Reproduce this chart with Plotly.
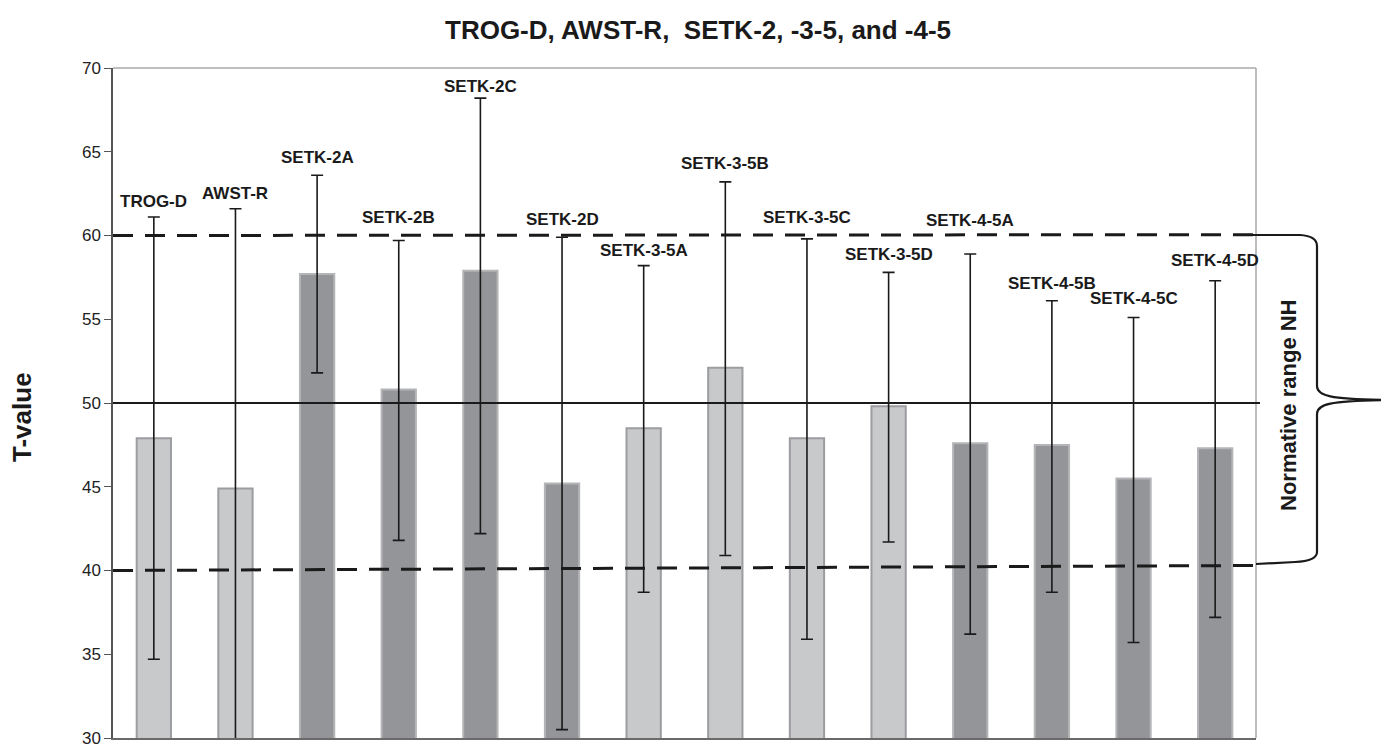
import plotly.graph_objects as go

categories = ["TROG-D", "AWST-R", "SETK-2A", "SETK-2B", "SETK-2C", "SETK-2D",
              "SETK-3-5A", "SETK-3-5B", "SETK-3-5C", "SETK-3-5D",
              "SETK-4-5A", "SETK-4-5B", "SETK-4-5C", "SETK-4-5D"]
means = [47.9, 44.9, 57.7, 50.8, 57.9, 45.2, 48.5, 52.1, 47.9, 49.8, 47.6, 47.5, 45.5, 47.3]
upper = [61.1, 61.6, 63.6, 59.7, 68.2, 59.9, 58.2, 63.2, 59.8, 57.8, 58.9, 56.1, 55.1, 57.3]
lower = [34.7, 28.0, 51.8, 41.8, 42.2, 30.5, 38.7, 40.9, 35.9, 41.7, 36.2, 38.7, 35.7, 37.2]
group = ["light", "light", "dark", "dark", "dark", "dark", "light", "light", "light", "light",
         "dark", "dark", "dark", "dark"]
# label lift above the upper cap (pixels)
label_lift = [16, 15, 18, 23, 12, 18, 15, 18, 21, 18, 33, 17, 19, 20]

norm_mean = 50
norm_upper = (60.0, 60.05)
norm_lower = (40.0, 40.3)
y_range = [30, 70]
y_ticks = [30, 35, 40, 45, 50, 55, 60, 65, 70]

FONT = "Liberation Sans, Arial, sans-serif"
fill = {"light": "#c8c9cb", "dark": "#939598"}
edge = {"light": "#9c9da0", "dark": "#b4b5b7"}

fig = go.Figure()
fig.add_trace(go.Bar(
    x=categories, y=means, width=0.42,
    marker=dict(color=[fill[g] for g in group],
                line=dict(color=[edge[g] for g in group], width=2)),
    error_y=dict(type="data", symmetric=False,
                 array=[u - m for u, m in zip(upper, means)],
                 arrayminus=[m - l for m, l in zip(means, lower)],
                 color="#1a1a1a", thickness=1.6, width=6),
    showlegend=False,
))

# page offset (body margin) and plot-area pixel geometry in screen coords
OFF = 8
X0, X1, Y0, Y1 = 113, 1256, 738, 68
def px(x):
    return (x - X0) / (X1 - X0)
def py(y):
    return y_range[0] + (Y0 - y) / (Y0 - Y1) * (y_range[1] - y_range[0])

shapes = []
shapes.append(dict(type="line", xref="paper", yref="paper", x0=0, x1=1, y0=1, y1=1,
                   line=dict(color="#a8a8a8", width=1.5), layer="below"))
shapes.append(dict(type="line", xref="paper", yref="paper", x0=1, x1=1, y0=0, y1=1,
                   line=dict(color="#a8a8a8", width=1.5), layer="below"))
shapes.append(dict(type="line", xref="paper", yref="y", x0=0, x1=px(1255),
                   y0=norm_upper[0], y1=norm_upper[1],
                   line=dict(color="#1a1a1a", width=3, dash="20px,12px")))
shapes.append(dict(type="line", xref="paper", yref="y", x0=0, x1=px(1255),
                   y0=norm_lower[0], y1=norm_lower[1],
                   line=dict(color="#1a1a1a", width=3, dash="20px,12px")))
shapes.append(dict(type="line", xref="paper", yref="y", x0=0, x1=px(1260),
                   y0=norm_mean, y1=norm_mean,
                   line=dict(color="#1a1a1a", width=2.2)))
def P(x, y):
    return f"{px(x):.5f},{py(y):.4f}"
path = (f"M {P(1250,235)} L {P(1300,235)} Q {P(1317,236)} {P(1317,246)} "
        f"L {P(1317,386)} C {P(1317,396)} {P(1330,399)} {P(1385,400)} "
        f"C {P(1330,401)} {P(1317,404)} {P(1317,414)} "
        f"L {P(1317,552)} Q {P(1317,561)} {P(1295,562)} L {P(1256,564)}")
shapes.append(dict(type="path", xref="paper", yref="y", path=path,
                   line=dict(color="#1a1a1a", width=2.2)))

annotations = []
for c, u, lift in zip(categories, upper, label_lift):
    annotations.append(dict(x=c, y=u, xref="x", yref="y", text=f"<b>{c}</b>",
                            showarrow=False, xanchor="center", yanchor="middle", yshift=lift,
                            font=dict(family=FONT, size=17, color="#1a1a1a")))
annotations.append(dict(x=px(698), y=(Y0 - 30) / (Y0 - Y1), xref="paper", yref="paper",
                        xanchor="center", yanchor="middle",
                        text="<b>TROG-D, AWST-R,  SETK-2, -3-5, and -4-5</b>",
                        showarrow=False, font=dict(family=FONT, size=26, color="#1a1a1a")))
annotations.append(dict(x=px(22), y=py(417), xref="paper", yref="y",
                        xanchor="center", yanchor="middle",
                        text="<b>T-value</b>", textangle=-90, showarrow=False,
                        font=dict(family=FONT, size=26, color="#1a1a1a")))
annotations.append(dict(x=px(1288), y=py(405), xref="paper", yref="y",
                        xanchor="center", yanchor="middle",
                        text="<b>Normative range NH</b>", textangle=-90, showarrow=False,
                        font=dict(family=FONT, size=22, color="#1a1a1a")))

W, H = 1389 - OFF, 744 - OFF
fig.update_layout(
    width=W, height=H,
    margin=dict(l=X0 - OFF, r=W - (X1 - OFF), t=Y1 - OFF, b=H - (Y0 - OFF), pad=0,
                autoexpand=False),
    plot_bgcolor="white", paper_bgcolor="white",
    shapes=shapes, annotations=annotations,
    xaxis=dict(showticklabels=False, ticks="", showgrid=False, zeroline=False,
               automargin=False,
               showline=True, linecolor="#6a6a6a", linewidth=1.5, range=[-0.5, 13.5]),
    yaxis=dict(range=y_range, tickvals=y_ticks, ticks="outside", ticklen=7,
               tickcolor="#555", tickwidth=1.2, ticklabeloverflow="allow", automargin=False,
               showgrid=False, zeroline=False, showline=True, linecolor="#555", linewidth=1.5,
               tickfont=dict(family=FONT, size=17, color="#222")),
)

fig.write_html("out.html")
